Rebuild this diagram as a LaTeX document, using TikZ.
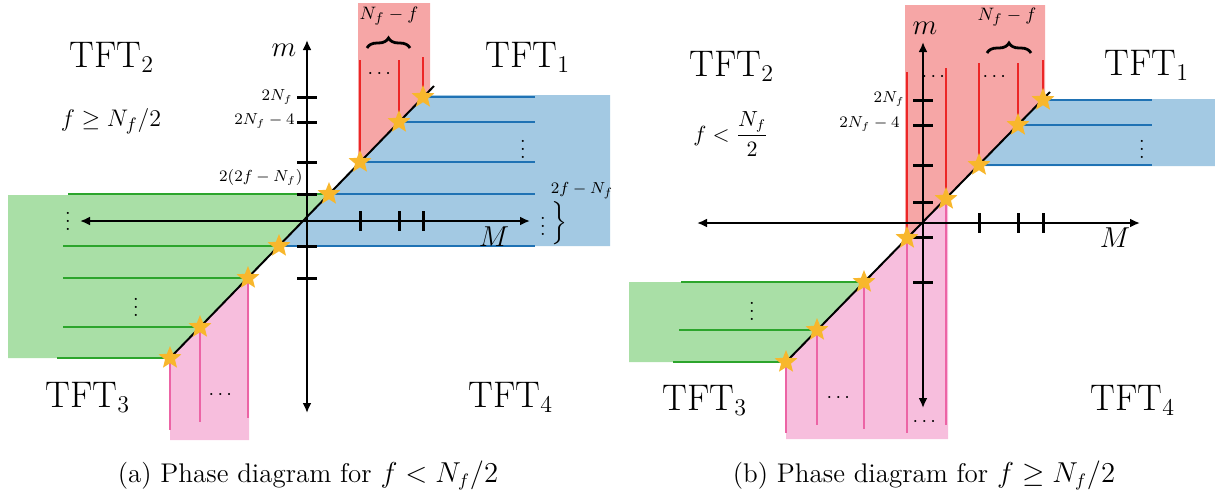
\documentclass[tikz,border=0pt]{standalone}
\usepackage{amsmath}
\usepackage{tikz}
\usetikzlibrary{shapes.geometric, arrows.meta, decorations.pathreplacing}

\definecolor{redfill}{RGB}{246,166,166}
\definecolor{bluefill}{RGB}{163,201,227}
\definecolor{greenfill}{RGB}{169,223,166}
\definecolor{pinkfill}{RGB}{247,190,221}
\definecolor{redline}{RGB}{236,38,38}
\definecolor{blueline}{RGB}{31,114,180}
\definecolor{greenline}{RGB}{44,165,44}
\definecolor{pinkline}{RGB}{236,100,165}
\definecolor{starfill}{RGB}{248,183,44}

\begin{document}
\begin{tikzpicture}[
  x=0.5pt, y=-0.5pt,
  axis/.style={{Latex[length=5pt,width=4.5pt]}-{Latex[length=5pt,width=4.5pt]}, line width=1pt},
  tickmark/.style={line width=1.5pt},
  diag/.style={line width=1pt},
  redl/.style={draw=redline, line width=1.1pt},
  bluel/.style={draw=blueline, line width=1.1pt},
  greenl/.style={draw=greenline, line width=1.1pt},
  pinkl/.style={draw=pinkline, line width=1.1pt},
  starpt/.style={star, star points=5, star point ratio=2.3, fill=starfill, inner sep=0pt, minimum size=12pt},
  tft/.style={font=\fontsize{18.5}{22}\selectfont, anchor=base, inner sep=0pt},
  axlab/.style={font=\fontsize{15}{18}\selectfont, inner sep=0pt},
  ticklab/.style={font=\fontsize{7.8}{9}\selectfont, inner sep=0pt},
  brc/.style={decorate, decoration={brace, amplitude=5pt}, line width=1.4pt},
  captxt/.style={font=\fontsize{13.5}{16}\selectfont, anchor=base, inner sep=0pt},
]
\useasboundingbox (0,0) rectangle (1215,495);

% ---------- (a) f < N_f/2 ----------
\fill[redfill] (358,3) -- (430,3) -- (430,90) -- (358,164) -- cycle;
\fill[bluefill] (425,95) -- (610,95) -- (610,246) -- (279,246) -- cycle;
\fill[greenfill] (8,195) -- (328,195) -- (170,358) -- (8,358) -- cycle;
\fill[pinkfill] (170,358) -- (249,277) -- (249,440) -- (170,440) -- cycle;

\foreach \y/\x in {97/423, 122/399, 162/360, 194/329, 246/279}
  \draw[bluel] (\x,\y) -- (535,\y);
\foreach \y/\x/\s in {194/329/68, 246/279/63, 278/248/63, 327/200/63, 358/170/57}
  \draw[greenl] (\s,\y) -- (\x,\y);
\foreach \x/\y/\t in {360/162/60, 399/122/60, 423/97/57}
  \draw[redl] (\x,\t) -- (\x,\y);
\foreach \x/\y/\b in {248/278/418, 200/327/422, 170/358/430}
  \draw[pinkl] (\x,\y) -- (\x,\b);

\coordinate (mtopa) at (307,40);
\coordinate (mbota) at (307,413);
\coordinate (Mlefta) at (80,221);
\coordinate (Mrighta) at (530,221);
\draw[axis] (mbota) -- (mtopa);
\draw[axis] (Mlefta) -- (Mrighta);
\foreach \y in {97,122,162,194,246,278}
  \draw[tickmark] (297,\y) -- (317,\y);
\foreach \x in {360,399,423}
  \draw[tickmark] (\x,211) -- (\x,231);

\coordinate (dloa) at (170,358);
\coordinate (dhia) at (434,86);
\draw[diag] (dloa) -- (dhia);
\foreach \x/\y [count=\i] in {423/97, 399/122, 360/162, 329/194, 279/246, 248/278, 200/327, 170/358}
  \node[starpt] (sa\i) at (\x,\y) {};

\node[axlab] (ma) at (284,50) {$m$};
\node[axlab] (Ma) at (494,237) {$M$};
\node[ticklab, anchor=east] (t1a) at (293,97) {$2N_f$};
\node[ticklab, anchor=east] (t2a) at (295,121) {$2N_f-4$};
\node[ticklab, anchor=east] (t3a) at (303,177) {$2(2f-N_f)$};
\node[tft] (tft1a) at (528,67) {TFT$_1$};
\node[tft] (tft2a) at (112,67) {TFT$_2$};
\node[tft] (tft3a) at (88,407) {TFT$_3$};
\node[tft] (tft4a) at (511,407) {TFT$_4$};
\node[font=\fontsize{12.5}{14}\selectfont] (conda) at (111,121) {$f\geq N_f/2$};
\node[font=\fontsize{9.5}{11}\selectfont] (nfa) at (389,16) {$N_f-f$};
\draw[brc] (367,48) -- (410,48);
\node (hdota) at (381,74) {$\cdots$};
\node (vdb1a) at (523,143) {$\vdots$};
\node (vdb2a) at (543,220) {$\vdots$};
\node[font=\fontsize{12}{14}\selectfont] (bra) at (559,223) {$\Big\}$};
\node[ticklab, font=\fontsize{8}{10}\selectfont] (twofa) at (582,191) {$2f-N_f$};
\node (vdg1a) at (68,215) {$\vdots$};
\node (vdg2a) at (136,301) {$\vdots$};
\node (hdpa) at (222,395) {$\cdots$};
\node[captxt] (capa) at (308,482) {(a) Phase diagram for $f<N_f/2$};

% ---------- (b) f >= N_f/2 ----------
\fill[redfill] (905,5) -- (1045,5) -- (1045,97.5) -- (905,240.3) -- cycle;
\fill[pinkfill] (786,362) -- (948,196.5) -- (948,439) -- (786,439) -- cycle;
\fill[bluefill] (1044,99) -- (1215,99) -- (1215,166) -- (978,166) -- cycle;
\fill[greenfill] (629,282) -- (864,282) -- (786,362) -- (629,362) -- cycle;

\foreach \y/\x in {100/1043, 125/1018, 165/979}
  \draw[bluel] (\x,\y) -- (1152,\y);
\foreach \y/\x/\s in {282/864/681, 330/817/679, 362/786/673}
  \draw[greenl] (\s,\y) -- (\x,\y);
\foreach \x/\y/\t in {907/238/72, 946/199/68, 979/165/63, 1018/125/63, 1043/100/60}
  \draw[redl] (\x,\t) -- (\x,\y);
\foreach \x/\y/\b in {946/199/425, 907/238/433, 864/282/429, 817/330/425, 786/362/433}
  \draw[pinkl] (\x,\y) -- (\x,\b);

\coordinate (mtopb) at (923,42);
\coordinate (mbotb) at (923,408);
\coordinate (Mleftb) at (697,223);
\coordinate (Mrightb) at (1140,223);
\draw[axis] (mbotb) -- (mtopb);
\draw[axis] (Mleftb) -- (Mrightb);
\foreach \y in {100,125,165,202,237,282}
  \draw[tickmark] (913,\y) -- (933,\y);
\foreach \x in {979,1018,1043}
  \draw[tickmark] (\x,213) -- (\x,233);

\coordinate (dlob) at (786,362);
\coordinate (dhib) at (1050,92);
\draw[diag] (dlob) -- (dhib);
\foreach \x/\y [count=\i] in {1043/100, 1018/125, 979/165, 946/199, 907/238, 864/282, 817/330, 786/362}
  \node[starpt] (sb\i) at (\x,\y) {};

\node[axlab] (mb) at (925,28) {$m$};
\node[axlab] (Mb) at (1115,238) {$M$};
\node[ticklab, anchor=east] (t1b) at (905,99) {$2N_f$};
\node[ticklab, anchor=east] (t2b) at (900,124) {$2N_f-4$};
\node[tft] (tft1b) at (1147,75) {TFT$_1$};
\node[tft] (tft2b) at (732,76) {TFT$_2$};
\node[tft] (tft3b) at (705,410) {TFT$_3$};
\node[tft] (tft4b) at (1133,410) {TFT$_4$};
\node[font=\fontsize{10.5}{12}\selectfont] (condb) at (731,134) {$\displaystyle f<\frac{N_f}{2}$};
\node[font=\fontsize{9.5}{11}\selectfont] (nfb) at (1007,17) {$N_f-f$};
\draw[brc] (987,53) -- (1031,53);
\node (hd1b) at (935,77) {$\cdots$};
\node (hd2b) at (996,77) {$\cdots$};
\node (hd3b) at (840,398) {$\cdots$};
\node (hd4b) at (926,422) {$\cdots$};
\node (vdbb) at (1142,143) {$\vdots$};
\node (vdgb) at (752,305) {$\vdots$};
\node[captxt] (capb) at (924,482) {(b) Phase diagram for $f\geq N_f/2$};
\end{tikzpicture}
\end{document}
